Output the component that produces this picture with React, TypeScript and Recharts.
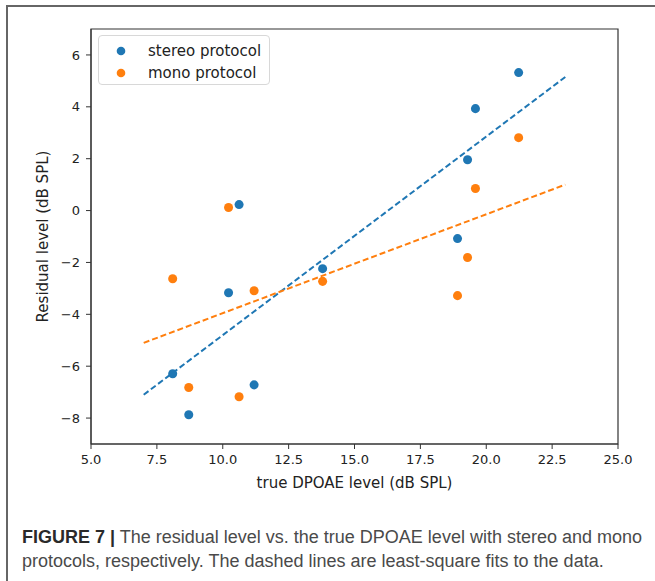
import * as React from 'react';
import { ScatterChart, Scatter, XAxis, YAxis, Legend, ReferenceArea } from 'recharts';

// true DPOAE level (dB SPL), shared by both protocols
const levels = [8.1, 8.71, 10.22, 10.62, 11.19, 13.79, 18.91, 19.29, 19.59, 21.23];
// residual level (dB SPL)
const stereoResidual = [-6.29, -7.87, -3.17, 0.23, -6.72, -2.24, -1.08, 1.96, 3.93, 5.32];
const monoResidual = [-2.63, -6.82, 0.12, -7.18, -3.09, -2.73, -3.28, -1.81, 0.85, 2.81];

// least-square fit end points
const fitLevels = [7, 23];
const stereoFit = [-7.1, 5.15];
const monoFit = [-5.1, 1.0];

const seriesNames = ['stereo protocol', 'mono protocol'];
const xTicks = [5, 7.5, 10, 12.5, 15, 17.5, 20, 22.5, 25];
const yTicks = [-8, -6, -4, -2, 0, 2, 4, 6];

const BLUE = '#1f77b4';
const ORANGE = '#ff7f0e';
const FONT = '"DejaVu Sans", sans-serif';

const toPoints = (xs: number[], ys: number[]) => xs.map((x, i) => ({ x, y: ys[i] }));

const stereoData = toPoints(levels, stereoResidual);
const monoData = toPoints(levels, monoResidual);
const stereoFitData = toPoints(fitLevels, stereoFit);
const monoFitData = toPoints(fitLevels, monoFit);

const fmtY = (v: number) => (v < 0 ? '\u2212' + Math.abs(v) : String(v));
const noShape = () => <g />;

const renderLegend = (props: any) => {
    const items = (props.payload || [])
        .filter((p: any) => seriesNames.indexOf(p.value) >= 0)
        .sort((a: any, b: any) => seriesNames.indexOf(a.value) - seriesNames.indexOf(b.value));
    return (
        <ul style={{ margin: 0, padding: '4px 0 0 0', listStyle: 'none' }}>
            {items.map((p: any) => (
                <li key={p.value} style={{ height: 22, display: 'flex', alignItems: 'center' }}>
                    <svg width={49} height={22} style={{ flex: 'none' }}>
                        <circle cx={22} cy={11} r={4.3} fill={p.color} />
                    </svg>
                    <span style={{ fontFamily: FONT, fontSize: 15, color: '#222' }}>{p.value}</span>
                </li>
            ))}
        </ul>
    );
};

export default function App() {
    const tick = { fontFamily: FONT, fontSize: 13, fill: '#222' };
    return (
        <div style={{ position: 'absolute', left: 0, top: 0, width: 655, height: 581, overflow: 'hidden', background: '#fff' }}>
            <div style={{ position: 'absolute', left: 6, top: 5, width: 700, height: 640, borderLeft: '2px solid #666', borderTop: '2px solid #666' }} />
            <div style={{ position: 'absolute', left: 0, top: 0 }}>
                <ScatterChart width={655} height={500} margin={{ top: 29, right: 37, left: 20, bottom: 0 }}>
                    <XAxis
                        type="number"
                        dataKey="x"
                        domain={[5, 25]}
                        ticks={xTicks}
                        allowDataOverflow
                        tickFormatter={(v: number) => v.toFixed(1)}
                        tick={tick}
                        tickSize={5}
                        tickMargin={6}
                        height={56}
                        stroke="#333"
                        label={{ value: 'true DPOAE level (dB SPL)', position: 'insideBottom', offset: 12, style: { fontFamily: FONT, fontSize: 15, fill: '#222' } }}
                    />
                    <YAxis
                        type="number"
                        dataKey="y"
                        domain={[-9, 7]}
                        ticks={yTicks}
                        allowDataOverflow
                        tickFormatter={fmtY}
                        tick={tick}
                        tickSize={5}
                        tickMargin={6}
                        width={71}
                        stroke="#333"
                        label={{ value: 'Residual level (dB SPL)', angle: -90, position: 'insideLeft', offset: 23, style: { fontFamily: FONT, fontSize: 15, fill: '#222', textAnchor: 'middle' } }}
                    />
                    <ReferenceArea x1={5} x2={25} y1={-9} y2={7} fill="none" stroke="#333" strokeWidth={1.2} ifOverflow="visible" />
                    <Legend
                        layout="vertical"
                        align="center"
                        verticalAlign="middle"
                        content={renderLegend}
                        wrapperStyle={{ left: 98, top: 35, width: 172, height: 50, border: '1px solid #d8d8d8', borderRadius: 4, background: 'rgba(255,255,255,0.85)', boxSizing: 'border-box' }}
                    />
                    <Scatter name="stereo fit" data={stereoFitData} fill={BLUE} shape={noShape} legendType="none" line={{ stroke: BLUE, strokeWidth: 2, strokeDasharray: '6 3' }} isAnimationActive={false} />
                    <Scatter name="mono fit" data={monoFitData} fill={ORANGE} shape={noShape} legendType="none" line={{ stroke: ORANGE, strokeWidth: 2, strokeDasharray: '6 3' }} isAnimationActive={false} />
                    <Scatter name={seriesNames[0]} data={stereoData} fill={BLUE} isAnimationActive={false} />
                    <Scatter name={seriesNames[1]} data={monoData} fill={ORANGE} isAnimationActive={false} />
                </ScatterChart>
            </div>
            <div style={{ position: 'absolute', left: 22, top: 525, width: 630, fontFamily: '"Liberation Sans", Arial, sans-serif', fontSize: 18, lineHeight: '24px', color: '#4a4a4a', whiteSpace: 'nowrap' }}>
                <div><b style={{ color: '#2a2a2a' }}>FIGURE 7 |</b> The residual level vs. the true DPOAE level with stereo and mono</div>
                <div>protocols, respectively. The dashed lines are least-square fits to the data.</div>
            </div>
        </div>
    );
}
